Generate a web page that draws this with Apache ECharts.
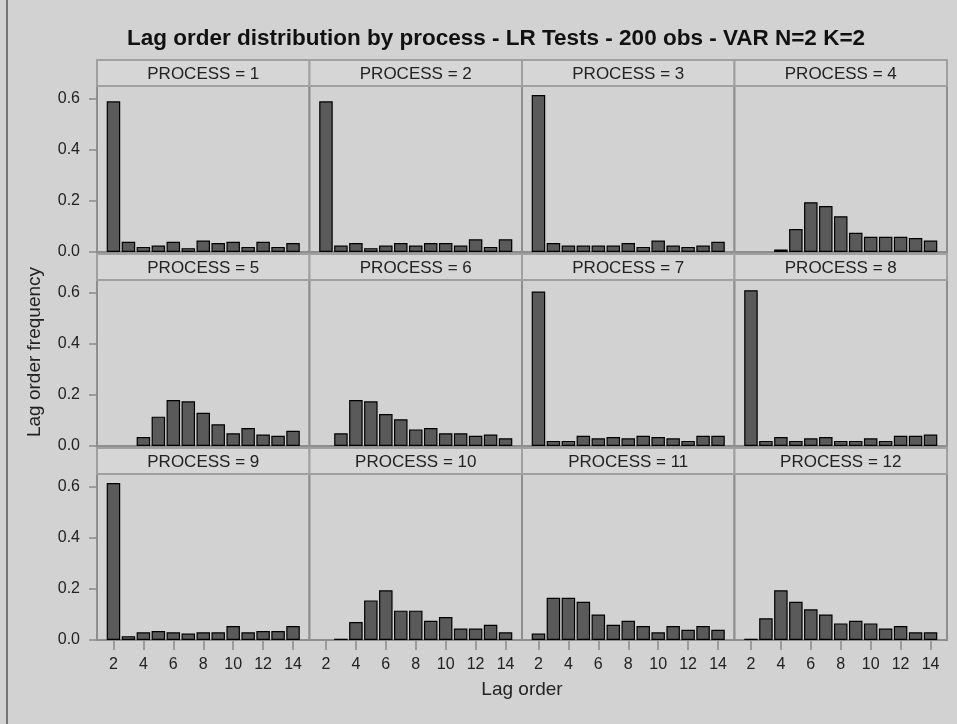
<!DOCTYPE html>
<html>
<head>
<meta charset="utf-8">
<script src="https://cdn.jsdelivr.net/npm/echarts@6/dist/echarts.min.js"></script>
<style>
  html, body { margin: 0; padding: 0; background: #d2d2d2; }
  #chart { width: 957px; height: 724px; }
</style>
</head>
<body>
<div id="chart"></div>
<script>
// Lag orders on the x axis (one bar per lag)
const lagOrders = [2, 3, 4, 5, 6, 7, 8, 9, 10, 11, 12, 13, 14];
const xTickLabels = [2, 4, 6, 8, 10, 12, 14];
const yTickValues = [0, 0.2, 0.4, 0.6];
const processNames = ['PROCESS = 1', 'PROCESS = 2', 'PROCESS = 3', 'PROCESS = 4',
  'PROCESS = 5', 'PROCESS = 6', 'PROCESS = 7', 'PROCESS = 8',
  'PROCESS = 9', 'PROCESS = 10', 'PROCESS = 11', 'PROCESS = 12'];

// Frequency of each selected lag order, per process
const process1 = [0.59, 0.04, 0.02, 0.025, 0.04, 0.015, 0.045, 0.035, 0.04, 0.02, 0.04, 0.02, 0.035];
const process2 = [0.59, 0.025, 0.035, 0.015, 0.025, 0.035, 0.025, 0.035, 0.035, 0.025, 0.05, 0.02, 0.05];
const process3 = [0.615, 0.035, 0.025, 0.025, 0.025, 0.025, 0.035, 0.02, 0.045, 0.025, 0.02, 0.025, 0.04];
const process4 = [null, null, 0.01, 0.09, 0.195, 0.18, 0.14, 0.075, 0.06, 0.06, 0.06, 0.055, 0.045];
const process5 = [null, null, 0.035, 0.115, 0.18, 0.175, 0.13, 0.085, 0.05, 0.07, 0.045, 0.04, 0.06];
const process6 = [null, 0.05, 0.18, 0.175, 0.125, 0.105, 0.065, 0.07, 0.05, 0.05, 0.04, 0.045, 0.03];
const process7 = [0.605, 0.02, 0.02, 0.04, 0.03, 0.035, 0.03, 0.04, 0.035, 0.03, 0.02, 0.04, 0.04];
const process8 = [0.61, 0.02, 0.035, 0.02, 0.03, 0.035, 0.02, 0.02, 0.03, 0.02, 0.04, 0.04, 0.045];
const process9 = [0.615, 0.015, 0.03, 0.035, 0.03, 0.025, 0.03, 0.03, 0.055, 0.03, 0.035, 0.035, 0.055];
const process10 = [null, 0.005, 0.07, 0.155, 0.195, 0.115, 0.115, 0.075, 0.09, 0.045, 0.045, 0.06, 0.03];
const process11 = [0.025, 0.165, 0.165, 0.15, 0.1, 0.06, 0.075, 0.055, 0.03, 0.055, 0.04, 0.055, 0.04];
const process12 = [0.005, 0.085, 0.195, 0.15, 0.12, 0.1, 0.065, 0.075, 0.065, 0.045, 0.055, 0.03, 0.03];

const allProcesses = [process1, process2, process3, process4, process5, process6,
  process7, process8, process9, process10, process11, process12];

const FONT = '"Liberation Sans", Arial, sans-serif';
const panelLeft0 = 97, panelW = 212.5;
const headerTops = [60, 254, 448];
const headerH = 26, plotH = 166;
const frameColor = '#8e8e8e';

const grids = [], xAxes = [], yAxes = [], series = [], graphics = [];

allProcesses.forEach((vals, i) => {
  const row = Math.floor(i / 4), col = i % 4;
  const left = panelLeft0 + col * panelW;
  const top = headerTops[row] + headerH;
  const bottomRow = row === 2, firstCol = col === 0;

  grids.push({
    left: left, top: top, width: panelW, height: plotH,
    show: true, backgroundColor: '#d2d2d2',
    borderColor: frameColor, borderWidth: 2
  });

  xAxes.push({
    gridIndex: i, type: 'value', min: 0.9, max: 15.1,
    axisLine: { show: false },
    splitLine: { show: false },
    axisTick: {
      show: bottomRow, length: 10, customValues: xTickLabels,
      lineStyle: { color: '#8a8a8a', width: 1.5 }
    },
    axisLabel: {
      show: bottomRow, customValues: xTickLabels, margin: 17,
      color: '#222', fontFamily: FONT, fontSize: 16
    }
  });

  yAxes.push({
    gridIndex: i, type: 'value', min: 0, max: 0.65,
    axisLine: { show: false },
    splitLine: { show: false },
    axisTick: {
      show: firstCol, length: 8, customValues: yTickValues,
      lineStyle: { color: '#8a8a8a', width: 1.5 }
    },
    axisLabel: {
      show: firstCol, customValues: yTickValues, margin: 17,
      color: '#222', fontFamily: FONT, fontSize: 16,
      formatter: v => v.toFixed(1)
    }
  });

  series.push({
    type: 'bar', xAxisIndex: i, yAxisIndex: i,
    barWidth: 13.5,
    data: lagOrders.map((lag, k) => [lag, vals[k]]),
    itemStyle: { color: '#5a5a5a', borderColor: '#000', borderWidth: 1.2 },
    silent: true
  });

  // panel header strip
  graphics.push({
    type: 'rect',
    shape: { x: left, y: headerTops[row], width: panelW, height: headerH },
    style: { fill: '#d6d6d6', stroke: '#a0a0a0', lineWidth: 2 },
    z: 1
  });
  graphics.push({
    type: 'text',
    x: left + panelW / 2, y: headerTops[row] + headerH / 2 + 1,
    style: {
      text: processNames[i], fill: '#222', font: '17px ' + FONT,
      textAlign: 'center', textVerticalAlign: 'middle'
    },
    z: 2
  });
});

// axis titles
graphics.push({
  type: 'text', x: 522, y: 690,
  style: { text: 'Lag order', fill: '#222', font: '19px ' + FONT,
    textAlign: 'center', textVerticalAlign: 'middle' }
});
graphics.push({
  type: 'text', x: 35, y: 352, rotation: Math.PI / 2,
  style: { text: 'Lag order frequency', fill: '#222', font: '19px ' + FONT,
    textAlign: 'center', textVerticalAlign: 'middle' }
});
// left edge of the graph border
graphics.push({
  type: 'line',
  shape: { x1: 7, y1: 0, x2: 7, y2: 724 },
  style: { stroke: '#555', lineWidth: 1.5 }
});

const chart = echarts.init(document.getElementById('chart'), null, { renderer: 'canvas' });
chart.setOption({
  animation: false,
  backgroundColor: '#d2d2d2',
  title: {
    text: 'Lag order distribution by process - LR Tests - 200 obs - VAR N=2 K=2',
    left: 491, top: 22, textAlign: 'center',
    textStyle: { fontFamily: FONT, fontWeight: 'bold', fontSize: 22.5, color: '#111' }
  },
  grid: grids,
  xAxis: xAxes,
  yAxis: yAxes,
  series: series,
  graphic: graphics
});
</script>
</body>
</html>
